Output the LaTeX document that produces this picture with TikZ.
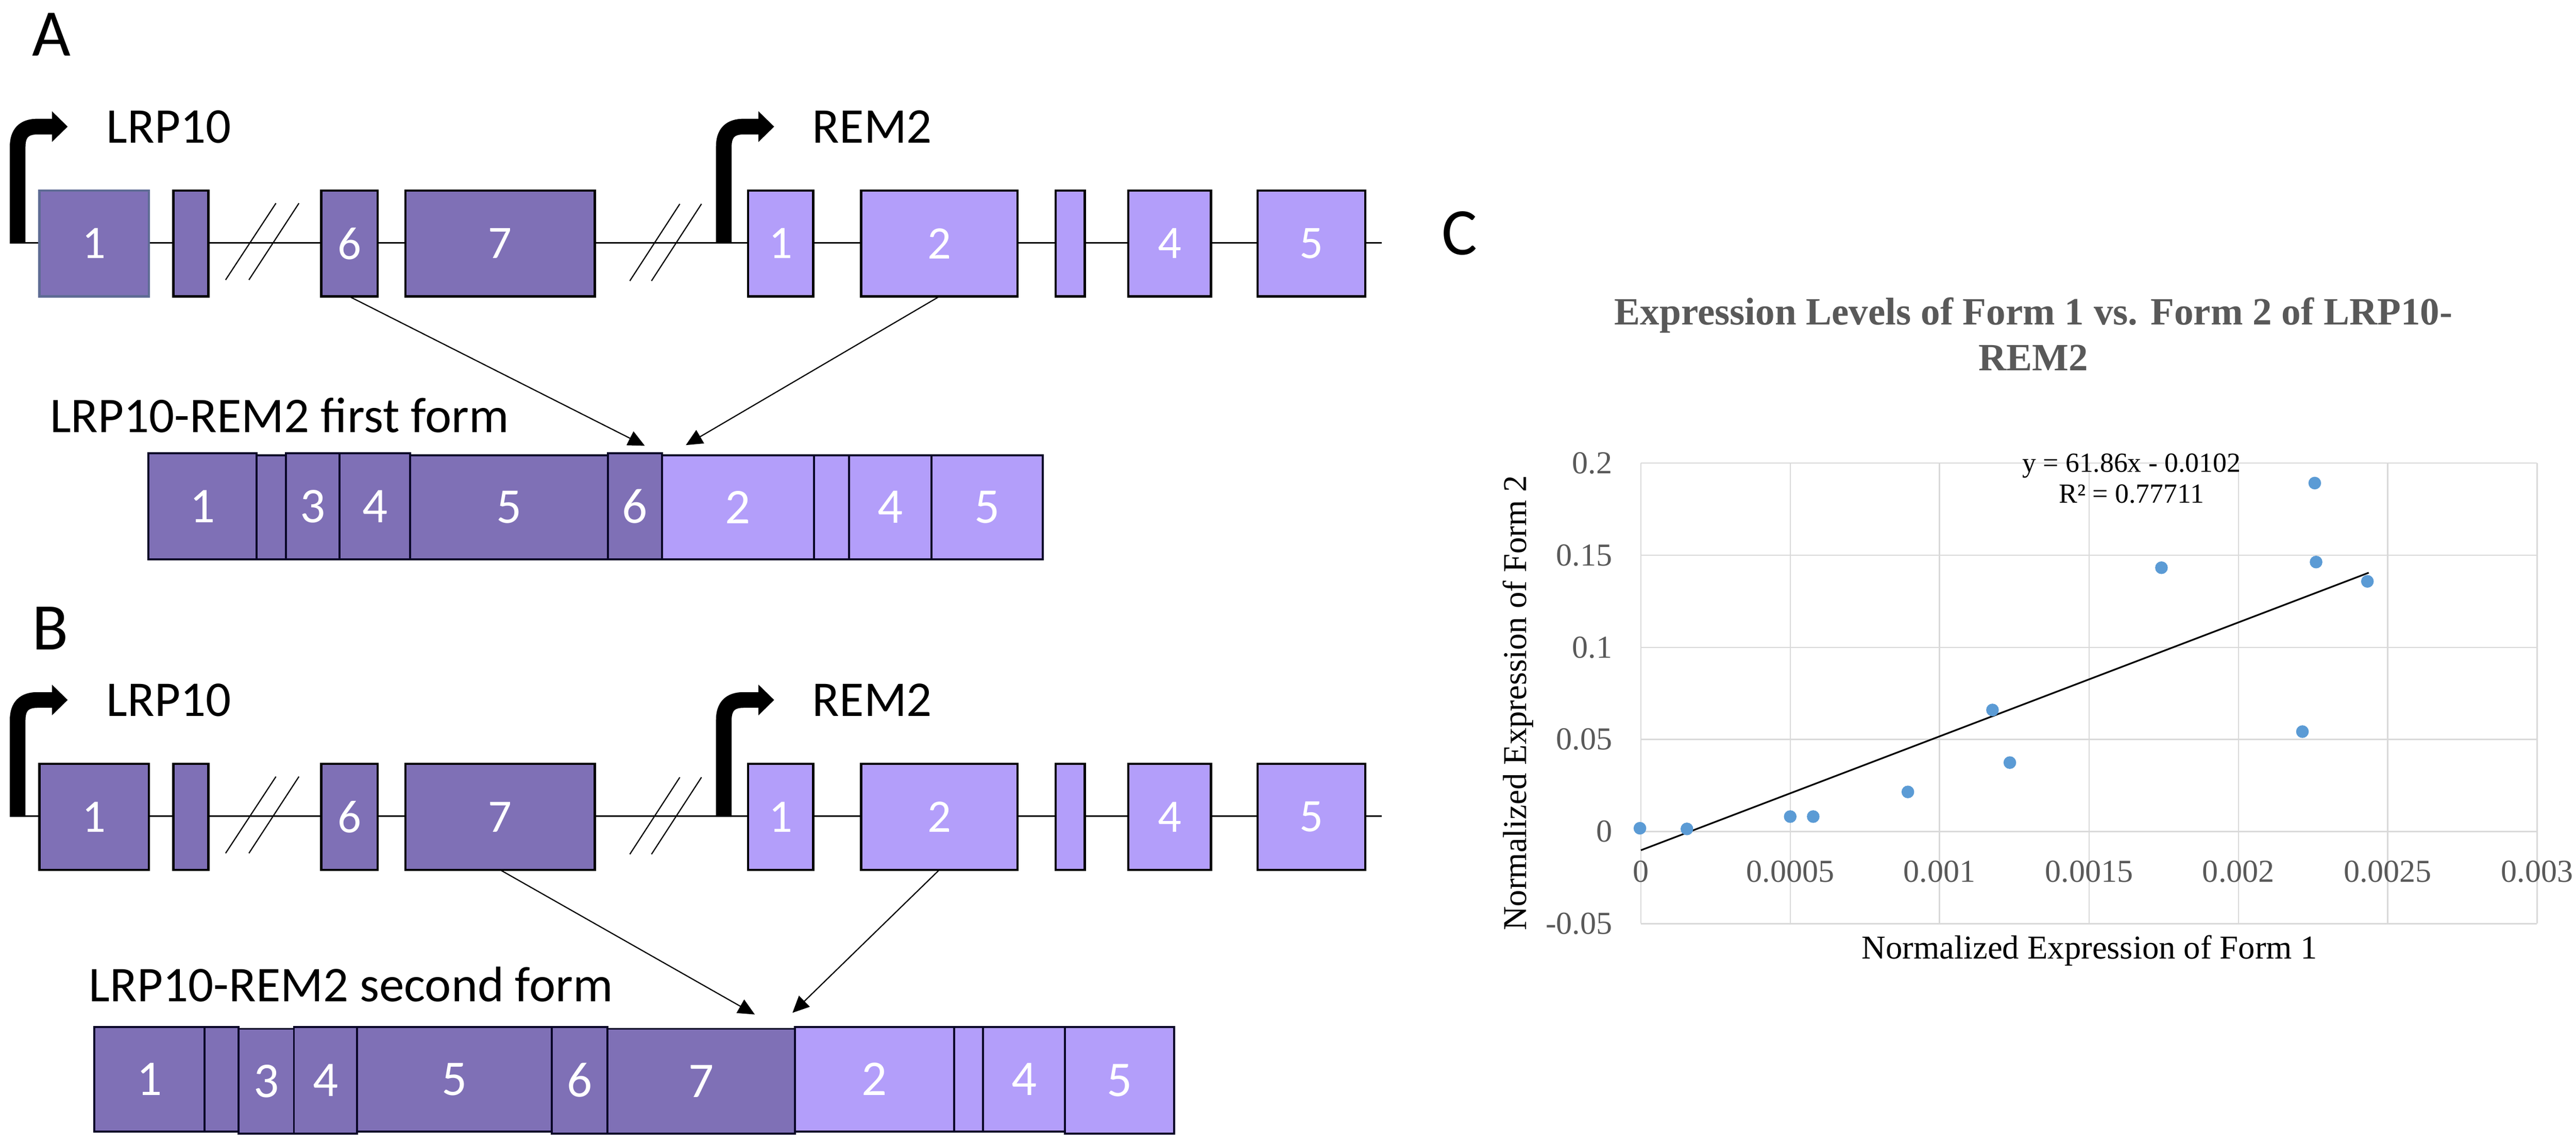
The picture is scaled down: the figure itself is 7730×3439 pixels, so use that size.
\documentclass[tikz,border=0pt]{standalone}
\usepackage{fontspec}
\setmainfont{Carlito}
\newfontfamily\tnr{Liberation Serif}
\usetikzlibrary{arrows.meta}
\definecolor{dpur}{HTML}{7F70B6}
\definecolor{lpur}{HTML}{B39EFA}
\definecolor{ebord}{HTML}{5E6B94}
\definecolor{nav}{HTML}{0A0628}
\definecolor{gridc}{HTML}{D9D9D9}
\definecolor{tgrey}{HTML}{595959}
\definecolor{dotc}{HTML}{5B9BD5}
\newcommand\exbox[7]{\node[#1, minimum width={(#4-#3)*0.1pt}, minimum height={(#6-#5)*0.1pt}] (#2) at ({(#3+#4)/2},{(#5+#6)/2}) {#7};}
\begin{document}
\begin{tikzpicture}[x=0.1pt,y=-0.1pt,
  exon/.style={draw=black, line width=0.7pt, inner sep=0pt, outer sep=0pt, text=white, font=\fontsize{14}{16}\selectfont},
  dex/.style={exon, fill=dpur},
  lex/.style={exon, fill=lpur},
  fseg/.style={draw=nav, line width=0.6pt, inner sep=0pt, outer sep=0pt, text=white, font=\fontsize{15}{17}\selectfont},
  fd/.style={fseg, fill=dpur},
  fl/.style={fseg, fill=lpur},
  gline/.style={line width=0.5pt},
  prom/.style={line width=4.7pt},
  slash/.style={line width=0.35pt},
  conn/.style={line width=0.35pt, -{Triangle[length=5pt,width=4.6pt]}},
  glabel/.style={anchor=base west, inner sep=0pt, font=\fontsize{15}{18}\selectfont},
  plabel/.style={anchor=base west, inner sep=0pt, font=\fontsize{20}{24}\selectfont},
  grid/.style={gridc, line width=0.4pt},
  tick/.style={inner sep=0pt, text=tgrey, font=\tnr\fontsize{9.6}{11}\selectfont},
  axt/.style={inner sep=0pt, font=\tnr\fontsize{10}{12}\selectfont},
  dot/.style={fill=dotc}
]
\useasboundingbox (0,0) rectangle (7730,3439);
\fill[white] (0,0) rectangle (7730,3439);

% ---------------- Panel A ----------------
\node[plabel] (labA) at (94,167) {A};
\coordinate (gA0) at (31,729);
\coordinate (gA1) at (4146,729);
\draw[gline] (gA0) -- (gA1);
\draw[prom] (53,731) -- (53,440) .. controls (53,400) and (72,380) .. (112,380) -- (158,380);
\fill (156,334) -- (203,380) -- (156,426) -- cycle;
\draw[prom] (2172,731) -- (2172,440) .. controls (2172,400) and (2191,380) .. (2231,380) -- (2278,380);
\fill (2276,334) -- (2323,380) -- (2276,426) -- cycle;
\node[glabel] (lrpA) at (318,429) {LRP10};
\node[glabel] (remA) at (2436,429) {REM2};
\draw[slash] (677,840) -- (828,610);
\draw[slash] (747,840) -- (897,610);
\draw[slash] (1890,843) -- (2040,612);
\draw[slash] (1955,843) -- (2105,612);
\exbox{dex, draw=ebord}{a1}{118}{447}{572}{890}{1}
\exbox{dex}{a2}{520}{625}{572}{890}{}
\exbox{dex}{a6}{964}{1133}{572}{890}{6}
\exbox{dex}{a7}{1217}{1785}{572}{890}{7}
\exbox{lex}{ar1}{2245}{2440}{572}{890}{1}
\exbox{lex}{ar2}{2584}{3053}{572}{890}{2}
\exbox{lex}{ar3}{3168}{3255}{572}{890}{}
\exbox{lex}{ar4}{3386}{3634}{572}{890}{4}
\exbox{lex}{ar5}{3774}{4097}{572}{890}{5}

% first form
\node[glabel] (ffl) at (148,1298) {LRP10-REM2 first form};
\exbox{fd}{f1}{445}{770}{1360}{1679}{1}
\exbox{fd}{f2}{770}{858}{1366}{1679}{}
\exbox{fd}{f3}{858}{1019}{1360}{1679}{3}
\exbox{fd}{f4}{1019}{1231}{1360}{1679}{4}
\exbox{fd}{f5}{1231}{1824}{1366}{1679}{5}
\exbox{fd}{f6}{1824}{1986}{1360}{1679}{6}
\exbox{fl}{fr2}{1986}{2443}{1366}{1679}{2}
\exbox{fl}{fr3}{2443}{2548}{1366}{1679}{}
\exbox{fl}{fr4}{2548}{2795}{1366}{1679}{4}
\exbox{fl}{fr5}{2795}{3129}{1366}{1679}{5}
\coordinate (t1) at (1935,1338);
\coordinate (t2) at (2058,1336);
\draw[conn] (a6.south) -- (t1);
\draw[conn] (ar2.south) -- (t2);

% ---------------- Panel B ----------------
\node[plabel] (labB) at (95,1950) {B};
\coordinate (gB0) at (31,2450);
\coordinate (gB1) at (4146,2450);
\draw[gline] (gB0) -- (gB1);
\draw[prom] (53,2452) -- (53,2161) .. controls (53,2121) and (72,2101) .. (112,2101) -- (158,2101);
\fill (156,2055) -- (203,2101) -- (156,2147) -- cycle;
\draw[prom] (2172,2452) -- (2172,2161) .. controls (2172,2121) and (2191,2101) .. (2231,2101) -- (2278,2101);
\fill (2276,2055) -- (2323,2101) -- (2276,2147) -- cycle;
\node[glabel] (lrpB) at (318,2150) {LRP10};
\node[glabel] (remB) at (2436,2150) {REM2};
\draw[slash] (677,2561) -- (828,2331);
\draw[slash] (747,2561) -- (897,2331);
\draw[slash] (1890,2564) -- (2040,2333);
\draw[slash] (1955,2564) -- (2105,2333);
\exbox{dex}{b1}{118}{447}{2293}{2611}{1}
\exbox{dex}{b2}{520}{625}{2293}{2611}{}
\exbox{dex}{b6}{964}{1133}{2293}{2611}{6}
\exbox{dex}{b7}{1217}{1785}{2293}{2611}{7}
\exbox{lex}{br1}{2245}{2440}{2293}{2611}{1}
\exbox{lex}{br2}{2584}{3053}{2293}{2611}{2}
\exbox{lex}{br3}{3168}{3255}{2293}{2611}{}
\exbox{lex}{br4}{3386}{3634}{2293}{2611}{4}
\exbox{lex}{br5}{3774}{4097}{2293}{2611}{5}

% second form
\node[glabel] (sfl) at (265,3006) {LRP10-REM2 second form};
\exbox{fd}{s1}{283}{614}{3083}{3396}{1}
\exbox{fd}{s2}{614}{716}{3083}{3396}{}
\exbox{fd}{s3}{716}{882}{3088}{3402}{3}
\exbox{fd}{s4}{882}{1072}{3083}{3402}{4}
\exbox{fd}{s5}{1072}{1656}{3083}{3396}{5}
\exbox{fd}{s6}{1656}{1823}{3083}{3402}{6}
\exbox{fd}{s7}{1823}{2385}{3088}{3402}{7}
\exbox{fl}{sr2}{2385}{2863}{3083}{3396}{2}
\exbox{fl}{sr3}{2863}{2950}{3083}{3396}{}
\exbox{fl}{sr4}{2950}{3196}{3083}{3396}{4}
\exbox{fl}{sr5}{3196}{3523}{3083}{3402}{5}
\coordinate (t3) at (2265,3045);
\coordinate (t4) at (2378,3040);
\draw[conn] (b7.south) -- (t3);
\draw[conn] (br2.south) -- (t4);

% ---------------- Panel C ----------------
\node[plabel] (labC) at (4325,765) {C};
\node[align=center, inner sep=0pt, anchor=base, text=tgrey, font=\tnr\bfseries\fontsize{11.6}{13.8}\selectfont] (title) at (6102,1112) {Expression Levels of Form 1 vs. Form 2 of LRP10-\\REM2};
% grid
\foreach \yy in {1390,1666.5,1943,2219.5,2496,2772.5} \draw[grid] (4924,\yy) -- (7613,\yy);
\foreach \xx in {4924,5372,5820,6269,6717,7165,7613} \draw[grid] (\xx,1390) -- (\xx,2772.5);
% y tick labels
\foreach \yy/\lab in {1390/0.2,1666.5/0.15,1943/0.1,2219.5/0.05,2496/0,2772.5/-0.05}
  \node[tick, anchor=east] at (4840,\yy) {\lab};
% x tick labels
\foreach \xx/\lab in {4924/0,5372/0.0005,5820/0.001,6269/0.0015,6717/0.002,7165/0.0025,7613/0.003}
  \node[tick, anchor=center] at (\xx,2616) {\lab};
% trendline
\coordinate (tr0) at (4924,2552);
\coordinate (tr1) at (7108,1719);
\draw[line width=0.5pt] (tr0) -- (tr1);
% data
\foreach \px/\py in {4921/2486,5062/2488,5372/2451,5441/2451,5725/2377,5979/2131,6031/2289,6486/1704,6909/2196,6946/1450,6950/1687,7104/1745}
  \fill[dot] (\px,\py) circle[radius=19];
% equation
\node[align=center, inner sep=0pt, anchor=base, font=\tnr\fontsize{8.3}{9.2}\selectfont] (eq) at (6396,1509) {y = 61.86x - 0.0102\\R² = 0.77711};
% axis titles
\node[axt, anchor=base] (xt) at (6270,2878) {Normalized Expression of Form 1};
\node[axt, rotate=90, anchor=center] (yt) at (4556,2110) {Normalized Expression of Form 2};
\end{tikzpicture}
\end{document}
